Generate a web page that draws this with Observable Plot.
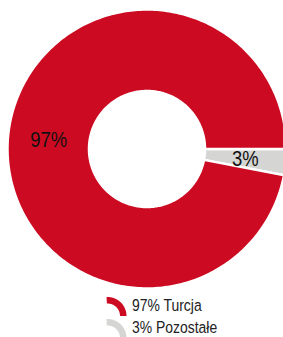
<!DOCTYPE html>
<html><head><meta charset="utf-8">
<script src="https://cdn.jsdelivr.net/npm/d3@7"></script>
<script src="https://cdn.jsdelivr.net/npm/@observablehq/plot@0.6"></script>
<style>body{margin:0;background:#fff;overflow:hidden}</style>
</head><body><div id="chart"></div>
<script>
// Data
const categories = ["Pozostałe", "Turcja"];
const values = [3, 97];
const sliceLabels = ["3%", "97%"];
const legendOrder = ["Turcja", "Pozostałe"];
const legendLabels = ["97% Turcja", "3% Pozostałe"];
const colors = ["#d5d5d3", "#cc0a21"];

// Layout
const W = 283, H = 337;
const cx = 146.5, cy = 148.5, rOut = 139.5, rIn = 58;
const font = "'Liberation Sans', Arial, sans-serif";
const narrow = 0.82;

const pie = d3.pie().sort(null).value(d => d.value)
  .startAngle(Math.PI / 2).endAngle(Math.PI / 2 + 2 * Math.PI);
const arcs = pie(categories.map((c, i) => ({category: c, value: values[i], label: sliceLabels[i]})));
const arcGen = d3.arc().innerRadius(rIn).outerRadius(rOut);

function ring(name, a0, a1, r0, r1, ox, oy) {
  const pts = [];
  const n = Math.max(2, Math.ceil(Math.abs(a1 - a0) / (Math.PI / 180)));
  for (let k = 0; k <= n; k++) { const a = a0 + (a1 - a0) * k / n; pts.push({name, x: ox + r1 * Math.sin(a), y: oy - r1 * Math.cos(a)}); }
  for (let k = n; k >= 0; k--) { const a = a0 + (a1 - a0) * k / n; pts.push({name, x: ox + r0 * Math.sin(a), y: oy - r0 * Math.cos(a)}); }
  pts.push({...pts[0]});
  return pts;
}

const slicePts = arcs.flatMap(a => ring(a.data.category, a.startAngle, a.endAngle, rIn, rOut, cx, cy));
const labelData = arcs.map(a => { const [x, y] = arcGen.centroid(a); return {x: cx + x, y: cy + y, text: a.data.label}; });

// Legend
const legX = 107, legY0 = 315.5, legDy = 22;
const legendIcons = legendOrder.flatMap((c, i) => ring(c, -0.05, Math.PI / 2, 12.5, 19, legX, legY0 + i * legDy));
const legendText = legendOrder.map((c, i) => ({x: 131.5, y: 305.5 + i * legDy, text: legendLabels[i]}));

const chart = Plot.plot({
  width: W, height: H, margin: 0,
  x: {domain: [0, W], range: [0, W], axis: null},
  y: {domain: [0, H], range: [0, H], axis: null},
  color: {domain: categories, range: colors},
  style: {fontFamily: font, background: "#fff"},
  marks: [
    Plot.line(slicePts, {x: "x", y: "y", z: "name", fill: "name", stroke: "white", strokeWidth: 2.5, curve: "linear"}),
    Plot.text(labelData, {x: "x", y: "y", text: "text", fontSize: 22.5, fill: "#111"}),
    Plot.line(legendIcons, {x: "x", y: "y", z: "name", fill: "name", stroke: "none"}),
    Plot.text(legendText, {x: "x", y: "y", text: "text", textAnchor: "start", fontSize: 17, fill: "#222"})
  ]
});
// Narrow the glyphs horizontally (the reference uses a condensed face)
d3.select(chart).selectAll("text").each(function () {
  const t = this.getAttribute("transform") || "";
  this.setAttribute("transform", t + ` scale(${narrow},1)`);
});
document.getElementById("chart").append(chart);
</script>
</body></html>
